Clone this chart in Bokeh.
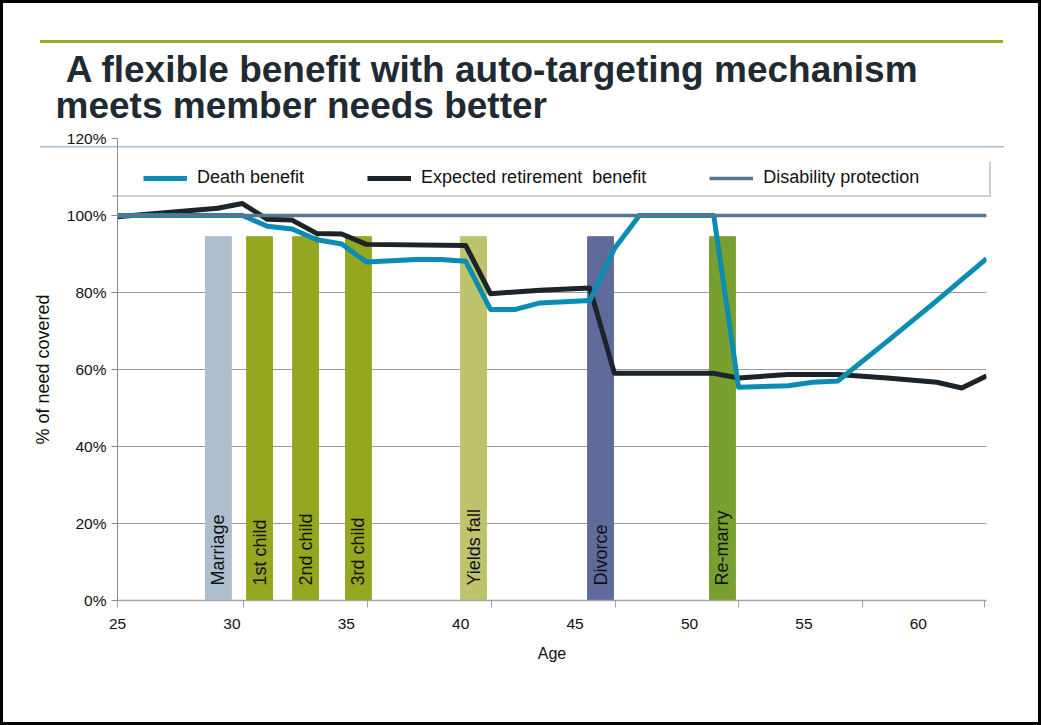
from bokeh.plotting import figure
from bokeh.models import (Range1d, FixedTicker, PrintfTickFormatter, Legend, LegendItem,
                          Title, ColumnDataSource)
from bokeh.core.properties import value
from bokeh.embed import file_html
from bokeh.resources import INLINE
import math

# ---------------- data ----------------
death_age = [25.0, 30.46, 31.55, 32.63, 33.72, 34.80, 35.88, 38.05, 39.13, 40.22, 41.30,
             42.39, 43.47, 45.64, 46.72, 47.81, 51.06, 52.14, 54.31, 55.39, 56.48,
             58.64, 60.81, 62.98]
death_pct = [100.0, 100.0, 97.2, 96.5, 93.7, 92.6, 87.9, 88.6, 88.6, 88.1, 75.6,
             75.6, 77.3, 77.9, 91.4, 100.0, 100.0, 55.4, 55.8, 56.7, 57.0,
             67.3, 77.9, 88.8]

ret_age = [25.0, 29.38, 30.46, 31.55, 32.63, 33.72, 34.80, 35.88, 40.22, 41.30, 43.47,
           45.64, 46.72, 51.06, 52.14, 54.31, 56.48, 58.64, 60.81, 61.90, 62.98]
ret_pct = [99.7, 101.9, 103.1, 99.0, 98.8, 95.3, 95.2, 92.5, 92.2, 79.7, 80.6,
           81.2, 59.0, 59.0, 57.8, 58.7, 58.7, 57.8, 56.7, 55.2, 58.3]

dis_age = [25.0, 62.98]
dis_pct = [100.0, 100.0]

event_names = ["Marriage", "1st child", "2nd child", "3rd child", "Yields fall", "Divorce", "Re-marry"]
event_age = [29.41, 31.21, 33.22, 35.53, 40.56, 46.11, 51.44]
event_top = [94.5, 94.5, 94.5, 94.5, 94.5, 94.5, 94.5]
event_colors = ["#adbecf", "#95a621", "#95a621", "#95a621", "#bec36e", "#616b9b", "#78a030"]

x_label_ticks = [25, 30, 35, 40, 45, 50, 55, 60]
x_mark_ticks = [25, 30.51, 35.93, 41.35, 46.77, 52.15, 57.57, 62.9]
y_ticks = [0, 20, 40, 60, 80, 100, 120]

title_text = "\u00a0A flexible benefit with auto-targeting mechanism\nmeets member needs better"

FONT = "Liberation Sans"

# slide decorations painted by CSS behind the (transparent) canvas
slide_styles = {
    "outline": "3px solid black",
    "outline-offset": "-3px",
    "background-color": "white",
    "background-image": ("linear-gradient(#9aaa2a, #9aaa2a), linear-gradient(#a9bccf, #a9bccf), "
                         "linear-gradient(#ffffff, #ffffff), linear-gradient(#cfcfcf, #cfcfcf)"),
    "background-size": "963px 3px, 964px 1.5px, 879px 35px, 879px 35px",
    "background-position": "40px 39.5px, 40px 146px, 110px 160px, 112px 162px",
    "background-repeat": "no-repeat",
}

p = figure(width=1041, height=725, x_range=Range1d(25, 62.98), y_range=Range1d(0, 120),
           output_backend="svg", toolbar_location=None,
           min_border_left=117, min_border_right=55, min_border_top=138, min_border_bottom=125,
           styles=slide_styles)
p.outline_line_color = None
p.background_fill_alpha = 0
p.border_fill_alpha = 0

p.add_layout(Title(text=title_text, text_font=FONT, text_font_size="37px", text_font_style="bold",
                   text_color="#1f2a33", align="left", offset=-62, standoff=24,
                   vertical_align="bottom", text_line_height=0.9), "above")

p.xgrid.visible = False
p.ygrid.ticker = FixedTicker(ticks=y_ticks)
p.ygrid.grid_line_color = "#9a9a9a"
p.ygrid.grid_line_width = 1

xa = p.xaxis[0]
xa.ticker = FixedTicker(ticks=x_label_ticks, minor_ticks=x_mark_ticks)
xa.major_tick_out = 0
xa.major_tick_in = 0
xa.minor_tick_out = 7
xa.minor_tick_in = 0
xa.minor_tick_line_color = "#a0a0a0"
xa.axis_line_color = "#a6a6a6"
xa.axis_line_width = 1.5
xa.major_label_text_font = FONT
xa.major_label_text_font_size = "15.5px"
xa.major_label_text_color = "#111111"
xa.major_label_standoff = 11
xa.axis_label = "Age"
xa.axis_label_text_font = FONT
xa.axis_label_text_font_size = "16px"
xa.axis_label_text_font_style = "normal"
xa.axis_label_text_color = "#111111"
xa.axis_label_standoff = 13

ya = p.yaxis[0]
ya.ticker = FixedTicker(ticks=y_ticks)
ya.formatter = PrintfTickFormatter(format="%d%%")
ya.major_tick_out = 6
ya.major_tick_in = 0
ya.minor_tick_out = 0
ya.minor_tick_in = 0
ya.major_tick_line_color = "#8c8c8c"
ya.axis_line_color = "#8c8c8c"
ya.major_label_text_font = FONT
ya.major_label_text_font_size = "15.5px"
ya.major_label_text_color = "#111111"
ya.major_label_standoff = 5
ya.axis_label = "% of need covered"
ya.axis_label_text_font = FONT
ya.axis_label_text_font_size = "18px"
ya.axis_label_text_font_style = "normal"
ya.axis_label_text_color = "#111111"
ya.axis_label_standoff = 11

# event bars
ev = ColumnDataSource(dict(age=event_age, top=event_top, color=event_colors, name=event_names))
p.vbar(x="age", top="top", bottom=0, width=1.13, color="color", source=ev)
p.text(x="age", y=3.9, text="name", angle=math.pi / 2, text_align="left", text_baseline="middle",
       text_font=value(FONT), text_font_size="18px", text_color="#111111", source=ev)

# lines
r_ret = p.line(ret_age, ret_pct, line_color="#1c2329", line_width=5, line_join="round")
r_death = p.line(death_age, death_pct, line_color="#0a8db0", line_width=5, line_join="round")
r_dis = p.line(dis_age, dis_pct, line_color="#587590", line_width=3.5)

legend = Legend(items=[LegendItem(label="Death benefit", renderers=[r_death]),
                       LegendItem(label="Expected retirement  benefit", renderers=[r_ret]),
                       LegendItem(label="Disability protection", renderers=[r_dis])],
                orientation="horizontal", location=(26, 412), padding=0, margin=0, spacing=63,
                glyph_width=44, glyph_height=20, label_standoff=10, label_height=20,
                label_text_font=FONT, label_text_font_size="18px", label_text_color="#111111",
                background_fill_alpha=0, border_line_alpha=0)
p.add_layout(legend, "center")

open("out.html", "w").write(file_html(p, INLINE))
